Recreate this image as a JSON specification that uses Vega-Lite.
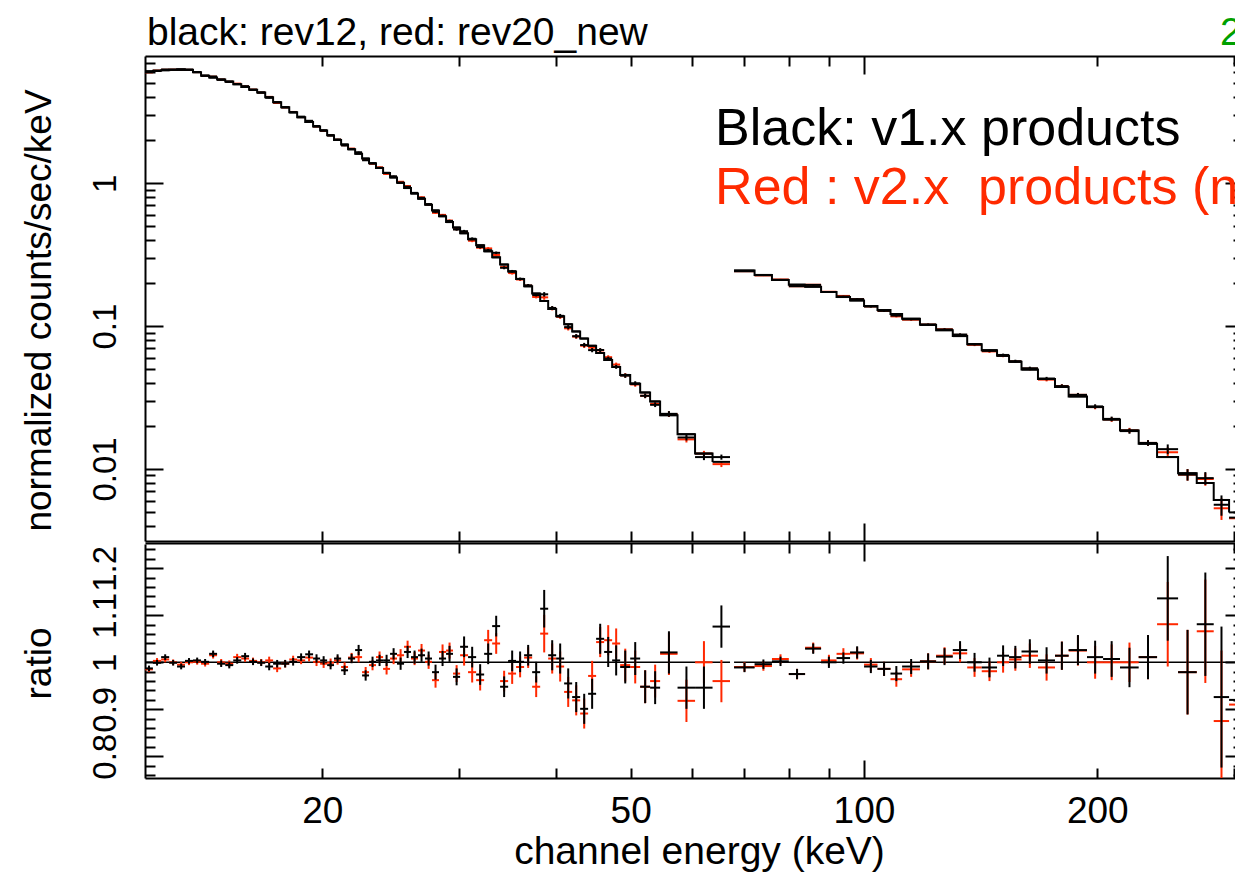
{
"$schema": "https://vega.github.io/schema/vega-lite/v6.json",
"width": 1090,
"height": 722,
"autosize": {"type": "none"},
"padding": {"left": 145, "top": 56, "right": 0, "bottom": 98},
"background": "white",
"config": {
  "font": "Liberation Sans",
  "view": {"stroke": null},
  "axis": {"grid": false, "labelColor": "#000000", "tickColor": "#000000", "domainColor": "#000000", "titleColor": "#000000", "titleFontWeight": "normal", "labelFlush": false, "labelOverlap": false, "labelBound": false, "domainWidth": 2, "tickWidth": 2, "labelFont": "Liberation Sans", "titleFont": "Liberation Sans"}
},
"datasets": {
"ones": [{"lo": 11.81, "hi": 67.17, "v": 1}, {"lo": 67.98, "hi": 314.8, "v": 1}],
"notes": [
 {"x": 11.81, "y": 9.30, "t": "black: rev12, red: rev20_new", "k": "title"},
 {"x": 288.0, "y": 9.30, "t": "2", "k": "green"},
 {"x": 64.26, "y": 1.854, "t": "Black: v1.x products", "k": "black"},
 {"x": 64.26, "y": 0.716, "t": "Red : v2.x\u00a0 products (new)", "k": "red"}
],
"bins": [
{"s":1,"lo":11.81,"hi":12.09,"c":11.95,"m":6.08,"db":6.00,"dr":5.99,"te":0.036,"rb":0.987,"rr":0.985,"e":0.006},
{"s":1,"lo":12.09,"hi":12.39,"c":12.24,"m":6.14,"db":6.13,"dr":6.16,"te":0.037,"rb":0.999,"rr":1.003,"e":0.006},
{"s":1,"lo":12.39,"hi":12.69,"c":12.54,"m":6.20,"db":6.27,"dr":6.24,"te":0.037,"rb":1.011,"rr":1.006,"e":0.006},
{"s":1,"lo":12.69,"hi":12.99,"c":12.84,"m":6.25,"db":6.24,"dr":6.25,"te":0.038,"rb":0.999,"rr":1.000,"e":0.006},
{"s":1,"lo":12.99,"hi":13.30,"c":13.15,"m":6.28,"db":6.22,"dr":6.25,"te":0.038,"rb":0.991,"rr":0.995,"e":0.006},
{"s":1,"lo":13.30,"hi":13.62,"c":13.46,"m":6.23,"db":6.25,"dr":6.23,"te":0.037,"rb":1.003,"rr":1.000,"e":0.006},
{"s":1,"lo":13.62,"hi":13.95,"c":13.79,"m":6.00,"db":6.02,"dr":6.01,"te":0.036,"rb":1.004,"rr":1.001,"e":0.006},
{"s":1,"lo":13.95,"hi":14.29,"c":14.12,"m":5.67,"db":5.68,"dr":5.65,"te":0.034,"rb":1.001,"rr":0.997,"e":0.006},
{"s":1,"lo":14.29,"hi":14.63,"c":14.46,"m":5.50,"db":5.60,"dr":5.58,"te":0.039,"rb":1.018,"rr":1.015,"e":0.007},
{"s":1,"lo":14.63,"hi":14.99,"c":14.81,"m":5.33,"db":5.31,"dr":5.33,"te":0.037,"rb":0.997,"rr":1.000,"e":0.007},
{"s":1,"lo":14.99,"hi":15.35,"c":15.17,"m":5.16,"db":5.13,"dr":5.14,"te":0.036,"rb":0.994,"rr":0.997,"e":0.007},
{"s":1,"lo":15.35,"hi":15.72,"c":15.53,"m":4.94,"db":4.96,"dr":4.99,"te":0.035,"rb":1.004,"rr":1.011,"e":0.007},
{"s":1,"lo":15.72,"hi":16.09,"c":15.90,"m":4.73,"db":4.79,"dr":4.77,"te":0.033,"rb":1.013,"rr":1.008,"e":0.007},
{"s":1,"lo":16.09,"hi":16.48,"c":16.28,"m":4.52,"db":4.52,"dr":4.53,"te":0.032,"rb":1.001,"rr":1.003,"e":0.007},
{"s":1,"lo":16.48,"hi":16.88,"c":16.68,"m":4.32,"db":4.32,"dr":4.32,"te":0.030,"rb":0.999,"rr":1.000,"e":0.007},
{"s":1,"lo":16.88,"hi":17.28,"c":17.08,"m":4.01,"db":3.97,"dr":4.03,"te":0.032,"rb":0.991,"rr":1.004,"e":0.008},
{"s":1,"lo":17.28,"hi":17.70,"c":17.49,"m":3.70,"db":3.69,"dr":3.65,"te":0.030,"rb":0.997,"rr":0.987,"e":0.008},
{"s":1,"lo":17.70,"hi":18.13,"c":17.91,"m":3.41,"db":3.40,"dr":3.40,"te":0.027,"rb":0.997,"rr":0.997,"e":0.008},
{"s":1,"lo":18.13,"hi":18.56,"c":18.34,"m":3.14,"db":3.14,"dr":3.16,"te":0.025,"rb":1.001,"rr":1.006,"e":0.008},
{"s":1,"lo":18.56,"hi":19.01,"c":18.78,"m":2.90,"db":2.93,"dr":2.91,"te":0.023,"rb":1.011,"rr":1.004,"e":0.008},
{"s":1,"lo":19.01,"hi":19.46,"c":19.23,"m":2.69,"db":2.74,"dr":2.72,"te":0.022,"rb":1.017,"rr":1.010,"e":0.008},
{"s":1,"lo":19.46,"hi":19.87,"c":19.66,"m":2.50,"db":2.52,"dr":2.50,"te":0.023,"rb":1.008,"rr":1.001,"e":0.009},
{"s":1,"lo":19.87,"hi":20.29,"c":20.08,"m":2.34,"db":2.35,"dr":2.33,"te":0.021,"rb":1.004,"rr":0.997,"e":0.009},
{"s":1,"lo":20.29,"hi":20.71,"c":20.50,"m":2.17,"db":2.16,"dr":2.17,"te":0.020,"rb":0.994,"rr":0.999,"e":0.009},
{"s":1,"lo":20.71,"hi":21.15,"c":20.93,"m":2.01,"db":2.03,"dr":2.02,"te":0.018,"rb":1.008,"rr":1.004,"e":0.009},
{"s":1,"lo":21.15,"hi":21.59,"c":21.37,"m":1.87,"db":1.84,"dr":1.85,"te":0.019,"rb":0.983,"rr":0.990,"e":0.010},
{"s":1,"lo":21.59,"hi":22.05,"c":21.82,"m":1.73,"db":1.74,"dr":1.75,"te":0.017,"rb":1.008,"rr":1.010,"e":0.010},
{"s":1,"lo":22.05,"hi":22.51,"c":22.28,"m":1.61,"db":1.65,"dr":1.63,"te":0.018,"rb":1.026,"rr":1.011,"e":0.011},
{"s":1,"lo":22.51,"hi":22.98,"c":22.75,"m":1.49,"db":1.45,"dr":1.46,"te":0.016,"rb":0.972,"rr":0.979,"e":0.011},
{"s":1,"lo":22.98,"hi":23.46,"c":23.22,"m":1.38,"db":1.38,"dr":1.37,"te":0.015,"rb":1.001,"rr":0.994,"e":0.011},
{"s":1,"lo":23.46,"hi":23.96,"c":23.71,"m":1.28,"db":1.285,"dr":1.294,"te":0.015,"rb":1.004,"rr":1.011,"e":0.012},
{"s":1,"lo":23.96,"hi":24.46,"c":24.21,"m":1.18,"db":1.185,"dr":1.163,"te":0.014,"rb":1.004,"rr":0.986,"e":0.012},
{"s":1,"lo":24.46,"hi":24.97,"c":24.72,"m":1.10,"db":1.12,"dr":1.109,"te":0.013,"rb":1.018,"rr":1.008,"e":0.012},
{"s":1,"lo":24.97,"hi":25.50,"c":25.24,"m":1.01,"db":1.007,"dr":1.025,"te":0.013,"rb":0.997,"rr":1.015,"e":0.013},
{"s":1,"lo":25.50,"hi":26.03,"c":25.77,"m":0.926,"db":0.946,"dr":0.957,"te":0.012,"rb":1.022,"rr":1.033,"e":0.013},
{"s":1,"lo":26.03,"hi":26.58,"c":26.31,"m":0.848,"db":0.857,"dr":0.855,"te":0.012,"rb":1.011,"rr":1.008,"e":0.014},
{"s":1,"lo":26.58,"hi":27.14,"c":26.86,"m":0.779,"db":0.791,"dr":0.798,"te":0.011,"rb":1.015,"rr":1.025,"e":0.014},
{"s":1,"lo":27.14,"hi":27.71,"c":27.43,"m":0.709,"db":0.715,"dr":0.710,"te":0.011,"rb":1.008,"rr":1.001,"e":0.015},
{"s":1,"lo":27.71,"hi":28.29,"c":28.00,"m":0.646,"db":0.632,"dr":0.621,"te":0.010,"rb":0.979,"rr":0.962,"e":0.016},
{"s":1,"lo":28.29,"hi":28.89,"c":28.59,"m":0.588,"db":0.593,"dr":0.601,"te":0.0094,"rb":1.008,"rr":1.022,"e":0.016},
{"s":1,"lo":28.89,"hi":29.49,"c":29.19,"m":0.535,"db":0.545,"dr":0.548,"te":0.0091,"rb":1.018,"rr":1.025,"e":0.017},
{"s":1,"lo":29.49,"hi":30.12,"c":29.81,"m":0.490,"db":0.475,"dr":0.478,"te":0.0088,"rb":0.969,"rr":0.976,"e":0.018},
{"s":1,"lo":30.12,"hi":30.84,"c":30.48,"m":0.447,"db":0.462,"dr":0.454,"te":0.0098,"rb":1.033,"rr":1.015,"e":0.022},
{"s":1,"lo":30.84,"hi":31.59,"c":31.22,"m":0.405,"db":0.409,"dr":0.396,"te":0.0089,"rb":1.011,"rr":0.979,"e":0.022},
{"s":1,"lo":31.59,"hi":32.35,"c":31.97,"m":0.368,"db":0.358,"dr":0.354,"te":0.0081,"rb":0.974,"rr":0.962,"e":0.022},
{"s":1,"lo":32.35,"hi":33.13,"c":32.74,"m":0.334,"db":0.340,"dr":0.350,"te":0.0073,"rb":1.018,"rr":1.047,"e":0.022},
{"s":1,"lo":33.13,"hi":33.92,"c":33.53,"m":0.303,"db":0.326,"dr":0.315,"te":0.0067,"rb":1.077,"rr":1.040,"e":0.022},
{"s":1,"lo":33.92,"hi":34.74,"c":34.33,"m":0.270,"db":0.256,"dr":0.259,"te":0.0059,"rb":0.948,"rr":0.960,"e":0.022},
{"s":1,"lo":34.74,"hi":35.57,"c":35.16,"m":0.241,"db":0.242,"dr":0.235,"te":0.0053,"rb":1.003,"rr":0.976,"e":0.022},
{"s":1,"lo":35.57,"hi":36.43,"c":36.00,"m":0.214,"db":0.214,"dr":0.212,"te":0.0047,"rb":1.001,"rr":0.990,"e":0.022},
{"s":1,"lo":36.43,"hi":37.31,"c":36.87,"m":0.190,"db":0.193,"dr":0.192,"te":0.0042,"rb":1.015,"rr":1.010,"e":0.022},
{"s":1,"lo":37.31,"hi":38.21,"c":37.76,"m":0.169,"db":0.165,"dr":0.160,"te":0.0037,"rb":0.979,"rr":0.948,"e":0.022},
{"s":1,"lo":38.21,"hi":39.13,"c":38.67,"m":0.150,"db":0.167,"dr":0.159,"te":0.0060,"rb":1.114,"rr":1.061,"e":0.040},
{"s":1,"lo":39.13,"hi":40.07,"c":39.60,"m":0.132,"db":0.134,"dr":0.133,"te":0.0042,"rb":1.015,"rr":1.008,"e":0.032},
{"s":1,"lo":40.07,"hi":41.03,"c":40.55,"m":0.117,"db":0.118,"dr":0.116,"te":0.0037,"rb":1.008,"rr":0.991,"e":0.032},
{"s":1,"lo":41.03,"hi":42.02,"c":41.53,"m":0.103,"db":0.0984,"dr":0.0965,"te":0.0033,"rb":0.955,"rr":0.937,"e":0.032},
{"s":1,"lo":42.02,"hi":43.03,"c":42.53,"m":0.0918,"db":0.0850,"dr":0.0844,"te":0.0029,"rb":0.926,"rr":0.919,"e":0.032},
{"s":1,"lo":43.03,"hi":44.06,"c":43.55,"m":0.0818,"db":0.0737,"dr":0.0729,"te":0.0026,"rb":0.901,"rr":0.891,"e":0.032},
{"s":1,"lo":44.06,"hi":45.12,"c":44.59,"m":0.0728,"db":0.0679,"dr":0.0707,"te":0.0023,"rb":0.933,"rr":0.971,"e":0.032},
{"s":1,"lo":45.12,"hi":46.21,"c":45.67,"m":0.0648,"db":0.0680,"dr":0.0676,"te":0.0021,"rb":1.050,"rr":1.043,"e":0.032},
{"s":1,"lo":46.21,"hi":47.32,"c":46.77,"m":0.0579,"db":0.0592,"dr":0.0606,"te":0.0019,"rb":1.022,"rr":1.047,"e":0.032},
{"s":1,"lo":47.32,"hi":48.46,"c":47.89,"m":0.0517,"db":0.0519,"dr":0.0538,"te":0.0017,"rb":1.004,"rr":1.040,"e":0.032},
{"s":1,"lo":48.46,"hi":49.93,"c":49.20,"m":0.0455,"db":0.0450,"dr":0.0452,"te":0.0016,"rb":0.990,"rr":0.994,"e":0.035},
{"s":1,"lo":49.93,"hi":51.43,"c":50.68,"m":0.0394,"db":0.0397,"dr":0.0390,"te":0.0014,"rb":1.008,"rr":0.990,"e":0.035},
{"s":1,"lo":51.43,"hi":52.97,"c":52.20,"m":0.0343,"db":0.0325,"dr":0.0325,"te":0.0012,"rb":0.948,"rr":0.948,"e":0.035},
{"s":1,"lo":52.97,"hi":54.57,"c":53.77,"m":0.0297,"db":0.0281,"dr":0.0285,"te":0.0010,"rb":0.946,"rr":0.960,"e":0.035},
{"s":1,"lo":54.57,"hi":57.47,"c":56.02,"m":0.0238,"db":0.0243,"dr":0.0242,"te":0.0011,"rb":1.021,"rr":1.018,"e":0.045},
{"s":1,"lo":57.47,"hi":60.54,"c":59.01,"m":0.0175,"db":0.0166,"dr":0.0161,"te":0.00079,"rb":0.946,"rr":0.918,"e":0.045},
{"s":1,"lo":60.54,"hi":63.77,"c":62.16,"m":0.0128,"db":0.0121,"dr":0.0128,"te":0.00058,"rb":0.946,"rr":1.000,"e":0.045},
{"s":1,"lo":63.77,"hi":67.17,"c":65.47,"m":0.0112,"db":0.0121,"dr":0.0108,"te":0.0005,"rb":1.076,"rr":0.960,"e":0.045},
{"s":2,"lo":67.98,"hi":72.25,"c":70.12,"m":0.2448,"db":0.2421,"dr":0.2424,"te":0.00245,"rb":0.989,"rr":0.990,"e":0.010},
{"s":2,"lo":72.25,"hi":76.08,"c":74.17,"m":0.2282,"db":0.2273,"dr":0.2264,"te":0.00228,"rb":0.996,"rr":0.992,"e":0.010},
{"s":2,"lo":76.08,"hi":79.99,"c":78.04,"m":0.2105,"db":0.2109,"dr":0.2120,"te":0.0021,"rb":1.002,"rr":1.007,"e":0.010},
{"s":2,"lo":79.99,"hi":83.95,"c":81.97,"m":0.1951,"db":0.1902,"dr":0.1902,"te":0.00215,"rb":0.975,"rr":0.975,"e":0.011},
{"s":2,"lo":83.95,"hi":88.04,"c":86.0,"m":0.1889,"db":0.1944,"dr":0.1948,"te":0.00208,"rb":1.029,"rr":1.031,"e":0.011},
{"s":2,"lo":88.04,"hi":92.18,"c":90.11,"m":0.1733,"db":0.1733,"dr":0.1740,"te":0.00208,"rb":1.000,"rr":1.004,"e":0.012},
{"s":2,"lo":92.18,"hi":95.95,"c":94.07,"m":0.1598,"db":0.1612,"dr":0.1627,"te":0.00192,"rb":1.009,"rr":1.018,"e":0.012},
{"s":2,"lo":95.95,"hi":100.03,"c":97.99,"m":0.1514,"db":0.1546,"dr":0.1543,"te":0.00197,"rb":1.021,"rr":1.019,"e":0.013},
{"s":2,"lo":100.03,"hi":104.1,"c":102.07,"m":0.1382,"db":0.1370,"dr":0.1375,"te":0.00193,"rb":0.991,"rr":0.995,"e":0.014},
{"s":2,"lo":104.1,"hi":108.2,"c":106.15,"m":0.1296,"db":0.1278,"dr":0.1278,"te":0.00194,"rb":0.986,"rr":0.986,"e":0.015},
{"s":2,"lo":108.2,"hi":112.0,"c":110.1,"m":0.1214,"db":0.1185,"dr":0.1170,"te":0.00194,"rb":0.976,"rr":0.964,"e":0.016},
{"s":2,"lo":112.0,"hi":118.1,"c":115.05,"m":0.1126,"db":0.1116,"dr":0.1109,"te":0.0018,"rb":0.991,"rr":0.985,"e":0.016},
{"s":2,"lo":118.1,"hi":123.9,"c":121.0,"m":0.1022,"db":0.1024,"dr":0.1024,"te":0.00174,"rb":1.002,"rr":1.002,"e":0.017},
{"s":2,"lo":123.9,"hi":130.2,"c":127.05,"m":0.0937,"db":0.0948,"dr":0.0950,"te":0.00169,"rb":1.012,"rr":1.014,"e":0.018},
{"s":2,"lo":130.2,"hi":135.9,"c":133.05,"m":0.0851,"db":0.0873,"dr":0.0867,"te":0.00162,"rb":1.026,"rr":1.019,"e":0.019},
{"s":2,"lo":135.9,"hi":141.9,"c":138.9,"m":0.0747,"db":0.0747,"dr":0.0739,"te":0.00149,"rb":1.000,"rr":0.989,"e":0.020},
{"s":2,"lo":141.9,"hi":148.5,"c":145.2,"m":0.0678,"db":0.0671,"dr":0.0665,"te":0.00142,"rb":0.989,"rr":0.981,"e":0.021},
{"s":2,"lo":148.5,"hi":153.9,"c":151.2,"m":0.0619,"db":0.0628,"dr":0.0619,"te":0.00136,"rb":1.014,"rr":1.000,"e":0.022},
{"s":2,"lo":153.9,"hi":159.7,"c":156.8,"m":0.0562,"db":0.0568,"dr":0.0565,"te":0.00135,"rb":1.011,"rr":1.006,"e":0.024},
{"s":2,"lo":159.7,"hi":167.7,"c":163.7,"m":0.0496,"db":0.0507,"dr":0.0503,"te":0.00129,"rb":1.023,"rr":1.014,"e":0.026},
{"s":2,"lo":167.7,"hi":176.4,"c":172.05,"m":0.0427,"db":0.0429,"dr":0.0422,"te":0.0012,"rb":1.004,"rr":0.989,"e":0.028},
{"s":2,"lo":176.4,"hi":183.7,"c":180.05,"m":0.0375,"db":0.0380,"dr":0.0380,"te":0.00113,"rb":1.014,"rr":1.014,"e":0.030},
{"s":2,"lo":183.7,"hi":194.0,"c":188.85,"m":0.0322,"db":0.0330,"dr":0.0330,"te":0.00103,"rb":1.026,"rr":1.025,"e":0.032},
{"s":2,"lo":194.0,"hi":203.5,"c":198.75,"m":0.0271,"db":0.0274,"dr":0.0271,"te":0.00095,"rb":1.011,"rr":1.000,"e":0.035},
{"s":2,"lo":203.5,"hi":214.0,"c":208.75,"m":0.0222,"db":0.0224,"dr":0.0222,"te":0.00084,"rb":1.007,"rr":1.000,"e":0.038},
{"s":2,"lo":214.0,"hi":226.2,"c":220.1,"m":0.0186,"db":0.0184,"dr":0.0186,"te":0.00078,"rb":0.989,"rr":1.000,"e":0.042},
{"s":2,"lo":226.2,"hi":238.9,"c":232.55,"m":0.0150,"db":0.0152,"dr":0.0152,"te":0.0007,"rb":1.011,"rr":1.011,"e":0.047},
{"s":2,"lo":238.9,"hi":254.3,"c":246.6,"m":0.0121,"db":0.01375,"dr":0.01308,"te":0.00109,"rb":1.136,"rr":1.081,"e":0.090},
{"s":2,"lo":254.3,"hi":268.8,"c":261.55,"m":0.00932,"db":0.00912,"dr":0.00912,"te":0.00084,"rb":0.979,"rr":0.979,"e":0.090},
{"s":2,"lo":268.8,"hi":282.7,"c":275.75,"m":0.00797,"db":0.00862,"dr":0.0085,"te":0.00088,"rb":1.081,"rr":1.066,"e":0.110},
{"s":2,"lo":282.7,"hi":295.9,"c":289.3,"m":0.00606,"db":0.00561,"dr":0.0053,"te":0.00091,"rb":0.926,"rr":0.875,"e":0.150},
{"s":2,"lo":295.9,"hi":314.8,"c":305.35,"m":0.00496,"db":0.00456,"dr":0.00451,"te":0.00074,"rb":0.920,"rr":0.910,"e":0.150}
]
},
"layer": [
{
"layer": [
{"data": {"name": "bins"}, "mark": {"type": "rule", "color": "#ff2800", "strokeWidth": 2, "clip": true},
 "encoding": {
  "x": {"field": "lo", "type": "quantitative", "scale": {"type": "log", "domain": [11.81, 308.4], "range": [0, 1098], "nice": false},
        "axis": {"orient": "bottom", "offset": -237, "values": [20,30,40,50,60,70,80,90,100,200,300], "labels": false, "title": null, "domain": true, "tickSize": {"condition": {"test": "datum.value == 100", "value": -18}, "value": -10}}},
  "x2": {"field": "hi"},
  "y": {"field": "dr", "type": "quantitative", "scale": {"type": "log", "domain": [0.003127, 7.79], "range": [485, 0], "nice": false},
        "axis": {"orient": "left", "values": [0.004,0.005,0.006,0.007,0.008,0.009,0.01,0.02,0.03,0.04,0.05,0.06,0.07,0.08,0.09,0.1,0.2,0.3,0.4,0.5,0.6,0.7,0.8,0.9,1,2,3,4,5,6,7], "labels": false, "title": null, "domain": true, "tickSize": {"condition": {"test": "datum.value == 0.01 || datum.value == 0.1 || datum.value == 1", "value": -18}, "value": -10}}}
 }},
{"data": {"name": "bins"}, "mark": {"type": "errorbar", "color": "#ff2800", "thickness": 2, "ticks": false, "clip": true},
 "encoding": {
  "x": {"field": "c", "type": "quantitative", "scale": {"type": "log", "domain": [11.81, 308.4], "range": [0, 1098], "nice": false}, "axis": null},
  "y": {"field": "dr", "type": "quantitative", "scale": {"type": "log", "domain": [0.003127, 7.79], "range": [485, 0], "nice": false}, "axis": null},
  "yError": {"field": "te"}
 }},
{"data": {"name": "bins"}, "mark": {"type": "rule", "color": "#000000", "strokeWidth": 2, "clip": true},
 "encoding": {
  "x": {"field": "lo", "type": "quantitative", "scale": {"type": "log", "domain": [11.81, 308.4], "range": [0, 1098], "nice": false},
        "axis": {"orient": "top", "values": [20,30,40,50,60,70,80,90,100,200,300], "labels": false, "title": null, "domain": true, "tickSize": {"condition": {"test": "datum.value == 100", "value": -18}, "value": -10}}},
  "x2": {"field": "hi"},
  "y": {"field": "db", "type": "quantitative", "scale": {"type": "log", "domain": [0.003127, 7.79], "range": [485, 0], "nice": false},
        "axis": {"orient": "right", "offset": 8, "values": [0.004,0.005,0.006,0.007,0.008,0.009,0.01,0.02,0.03,0.04,0.05,0.06,0.07,0.08,0.09,0.1,0.2,0.3,0.4,0.5,0.6,0.7,0.8,0.9,1,2,3,4,5,6,7], "labels": false, "title": null, "domain": true, "tickSize": {"condition": {"test": "datum.value == 0.01 || datum.value == 0.1 || datum.value == 1", "value": -18}, "value": -10}}}
 }},
{"data": {"name": "bins"}, "mark": {"type": "errorbar", "color": "#000000", "thickness": 2, "ticks": false, "clip": true},
 "encoding": {
  "x": {"field": "c", "type": "quantitative", "scale": {"type": "log", "domain": [11.81, 308.4], "range": [0, 1098], "nice": false}, "axis": null},
  "y": {"field": "db", "type": "quantitative", "scale": {"type": "log", "domain": [0.003127, 7.79], "range": [485, 0], "nice": false}, "axis": null},
  "yError": {"field": "te"}
 }},
{"data": {"name": "bins"}, "mark": {"type": "rule", "color": "#000000", "strokeWidth": 2, "clip": true},
 "encoding": {
  "x": {"field": "lo", "type": "quantitative", "scale": {"type": "log", "domain": [11.81, 308.4], "range": [0, 1098], "nice": false}, "axis": null},
  "x2": {"field": "hi"},
  "y": {"field": "m", "type": "quantitative", "scale": {"type": "log", "domain": [0.003127, 7.79], "range": [485, 0], "nice": false},
        "axis": {"orient": "left", "values": [0.01, 0.1, 1], "format": "~g", "ticks": false, "tickSize": 0, "domain": false, "labelAngle": -90, "labelAlign": "center", "labelBaseline": "alphabetic", "labelFontSize": 33, "labelPadding": 30,
                 "title": "normalized counts/sec/keV", "titleFontSize": 37, "titleX": -95, "titleY": 254, "titleAngle": -90, "titleAlign": "center", "titleBaseline": "alphabetic"}}
 }},
{"data": {"name": "bins"}, "mark": {"type": "line", "interpolate": "step-after", "color": "#000000", "strokeWidth": 2, "clip": true},
 "encoding": {
  "x": {"field": "lo", "type": "quantitative", "scale": {"type": "log", "domain": [11.81, 308.4], "range": [0, 1098], "nice": false}, "axis": null},
  "y": {"field": "m", "type": "quantitative", "scale": {"type": "log", "domain": [0.003127, 7.79], "range": [485, 0], "nice": false}, "axis": null},
  "detail": {"field": "s", "type": "nominal"}
 }},
{"data": {"name": "notes"}, "transform": [{"filter": "datum.k == 'title'"}], "mark": {"type": "text", "align": "left", "baseline": "alphabetic", "fontSize": 39, "font": "Liberation Sans", "color": "#000000", "dx": 2},
 "encoding": {
  "x": {"field": "x", "type": "quantitative", "scale": {"type": "log", "domain": [11.81, 308.4], "range": [0, 1098], "nice": false}, "axis": null},
  "y": {"field": "y", "type": "quantitative", "scale": {"type": "log", "domain": [0.003127, 7.79], "range": [485, 0], "nice": false}, "axis": null},
  "text": {"field": "t"}
 }},
{"data": {"name": "notes"}, "transform": [{"filter": "datum.k == 'green'"}], "mark": {"type": "text", "align": "left", "baseline": "alphabetic", "fontSize": 39, "font": "Liberation Sans", "color": "#00a000"},
 "encoding": {
  "x": {"field": "x", "type": "quantitative", "scale": {"type": "log", "domain": [11.81, 308.4], "range": [0, 1098], "nice": false}, "axis": null},
  "y": {"field": "y", "type": "quantitative", "scale": {"type": "log", "domain": [0.003127, 7.79], "range": [485, 0], "nice": false}, "axis": null},
  "text": {"field": "t"}
 }},
{"data": {"name": "notes"}, "transform": [{"filter": "datum.k == 'black'"}], "mark": {"type": "text", "align": "left", "baseline": "alphabetic", "fontSize": 52, "font": "Liberation Sans", "color": "#000000"},
 "encoding": {
  "x": {"field": "x", "type": "quantitative", "scale": {"type": "log", "domain": [11.81, 308.4], "range": [0, 1098], "nice": false}, "axis": null},
  "y": {"field": "y", "type": "quantitative", "scale": {"type": "log", "domain": [0.003127, 7.79], "range": [485, 0], "nice": false}, "axis": null},
  "text": {"field": "t"}
 }},
{"data": {"name": "notes"}, "transform": [{"filter": "datum.k == 'red'"}], "mark": {"type": "text", "align": "left", "baseline": "alphabetic", "fontSize": 52, "font": "Liberation Sans", "color": "#ff2a00"},
 "encoding": {
  "x": {"field": "x", "type": "quantitative", "scale": {"type": "log", "domain": [11.81, 308.4], "range": [0, 1098], "nice": false}, "axis": null},
  "y": {"field": "y", "type": "quantitative", "scale": {"type": "log", "domain": [0.003127, 7.79], "range": [485, 0], "nice": false}, "axis": null},
  "text": {"field": "t"}
 }}
],
"resolve": {"axis": {"x": "independent", "y": "independent"}}
},
{
"layer": [
{"data": {"name": "ones"}, "mark": {"type": "rule", "color": "#000000", "strokeWidth": 1.5, "clip": true},
 "encoding": {
  "x": {"field": "lo", "type": "quantitative", "scale": {"type": "log", "domain": [11.81, 308.4], "range": [0, 1098], "nice": false},
        "axis": {"orient": "bottom", "values": [20, 50, 100, 200], "format": "~g", "ticks": false, "tickSize": 0, "domain": false, "labelFontSize": 37, "labelPadding": 44, "labelBaseline": "alphabetic", "labelAlign": "center",
                 "title": "channel energy (keV)", "titleFontSize": 39, "titleX": 554, "titleY": 85, "titleAlign": "center", "titleBaseline": "alphabetic"}},
  "x2": {"field": "hi"},
  "y": {"field": "v", "type": "quantitative", "scale": {"type": "linear", "domain": [0.7538, 1.2517], "range": [722, 488], "nice": false, "zero": false},
        "axis": {"orient": "left", "values": [0.8, 0.9, 1, 1.1, 1.2], "format": "~g", "ticks": false, "tickSize": 0, "domain": false, "labelAngle": -90, "labelAlign": "center", "labelBaseline": "alphabetic", "labelFontSize": 33, "labelPadding": 30,
                 "title": "ratio", "titleFontSize": 37, "titleX": -95, "titleY": 607, "titleAngle": -90, "titleAlign": "center", "titleBaseline": "alphabetic"}}
 }},
{"data": {"name": "bins"}, "mark": {"type": "rule", "color": "#ff2800", "strokeWidth": 2, "clip": true},
 "encoding": {
  "x": {"field": "lo", "type": "quantitative", "scale": {"type": "log", "domain": [11.81, 308.4], "range": [0, 1098], "nice": false},
        "axis": {"orient": "bottom", "values": [20,30,40,50,60,70,80,90,100,200,300], "labels": false, "title": null, "domain": true, "tickSize": {"condition": {"test": "datum.value == 100", "value": -18}, "value": -10}}},
  "x2": {"field": "hi"},
  "y": {"field": "rr", "type": "quantitative", "scale": {"type": "linear", "domain": [0.7538, 1.2517], "range": [722, 488], "nice": false, "zero": false},
        "axis": {"orient": "left", "values": [0.76,0.78,0.8,0.82,0.84,0.86,0.88,0.9,0.92,0.94,0.96,0.98,1,1.02,1.04,1.06,1.08,1.1,1.12,1.14,1.16,1.18,1.2,1.22,1.24], "labels": false, "title": null, "domain": true, "tickSize": {"condition": {"test": "datum.value == 0.8 || datum.value == 0.9 || datum.value == 1 || datum.value == 1.1 || datum.value == 1.2", "value": -18}, "value": -10}}}
 }},
{"data": {"name": "bins"}, "mark": {"type": "errorbar", "color": "#ff2800", "thickness": 2, "ticks": false, "clip": true},
 "encoding": {
  "x": {"field": "c", "type": "quantitative", "scale": {"type": "log", "domain": [11.81, 308.4], "range": [0, 1098], "nice": false}, "axis": null},
  "y": {"field": "rr", "type": "quantitative", "scale": {"type": "linear", "domain": [0.7538, 1.2517], "range": [722, 488], "nice": false, "zero": false}, "axis": null},
  "yError": {"field": "e"}
 }},
{"data": {"name": "bins"}, "mark": {"type": "rule", "color": "#000000", "strokeWidth": 2, "clip": true},
 "encoding": {
  "x": {"field": "lo", "type": "quantitative", "scale": {"type": "log", "domain": [11.81, 308.4], "range": [0, 1098], "nice": false},
        "axis": {"orient": "top", "offset": -487, "values": [20,30,40,50,60,70,80,90,100,200,300], "labels": false, "title": null, "domain": true, "tickSize": {"condition": {"test": "datum.value == 100", "value": -18}, "value": -10}}},
  "x2": {"field": "hi"},
  "y": {"field": "rb", "type": "quantitative", "scale": {"type": "linear", "domain": [0.7538, 1.2517], "range": [722, 488], "nice": false, "zero": false},
        "axis": {"orient": "right", "offset": 8, "values": [0.76,0.78,0.8,0.82,0.84,0.86,0.88,0.9,0.92,0.94,0.96,0.98,1,1.02,1.04,1.06,1.08,1.1,1.12,1.14,1.16,1.18,1.2,1.22,1.24], "labels": false, "title": null, "domain": true, "tickSize": {"condition": {"test": "datum.value == 0.8 || datum.value == 0.9 || datum.value == 1 || datum.value == 1.1 || datum.value == 1.2", "value": -18}, "value": -10}}}
 }},
{"data": {"name": "bins"}, "mark": {"type": "errorbar", "color": "#000000", "thickness": 2, "ticks": false, "clip": true},
 "encoding": {
  "x": {"field": "c", "type": "quantitative", "scale": {"type": "log", "domain": [11.81, 308.4], "range": [0, 1098], "nice": false}, "axis": null},
  "y": {"field": "rb", "type": "quantitative", "scale": {"type": "linear", "domain": [0.7538, 1.2517], "range": [722, 488], "nice": false, "zero": false}, "axis": null},
  "yError": {"field": "e"}
 }}
],
"resolve": {"axis": {"x": "independent", "y": "independent"}}
}
],
"resolve": {"scale": {"y": "independent"}, "axis": {"x": "independent", "y": "independent"}}
}
